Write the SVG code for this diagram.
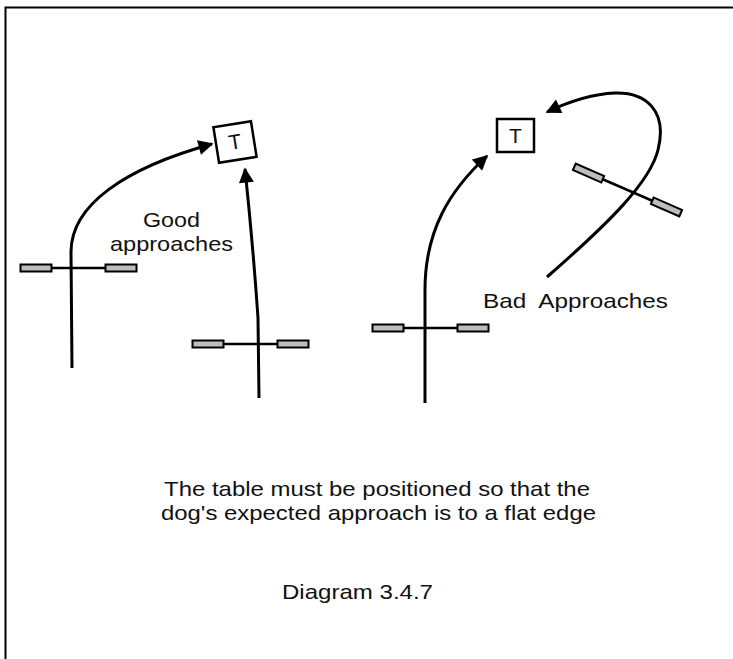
<svg xmlns="http://www.w3.org/2000/svg" width="733" height="659" viewBox="0 0 733 659">
<style>
.lbl{font-family:"Liberation Sans",Arial,sans-serif;font-size:21px;fill:#111}
.path{fill:none;stroke:#000;stroke-width:3;stroke-linecap:butt}
.box{fill:#fff;stroke:#000;stroke-width:2.5}
.bar{fill:#bdbdbd;stroke:#000;stroke-width:2}
.rail{stroke:#000;stroke-width:2.5}
</style>
<defs>
<marker id="ah" viewBox="0 0 10 10" refX="9" refY="5" markerWidth="5.5" markerHeight="5" markerUnits="strokeWidth" orient="auto">
<path d="M0,0 L10,5 L0,10 Z" fill="#000"/>
</marker>
<g id="hurdle">
<line class="rail" x1="-27" y1="0" x2="27" y2="0"/>
<rect class="bar" x="-58" y="-3.5" width="31" height="7"/>
<rect class="bar" x="27" y="-3.5" width="31" height="7"/>
</g>
</defs>
<rect width="733" height="659" fill="#fff"/>
<path d="M5.5,659 L5.5,7.5 L733,7.5" fill="none" stroke="#000" stroke-width="2"/>

<g id="table-good" transform="translate(235,142) rotate(-9)">
<rect class="box" x="-19" y="-18" width="38" height="36"/>
<text class="lbl" x="0" y="7" text-anchor="middle" font-size="19">T</text>
</g>
<g id="table-bad">
<rect class="box" x="497" y="119" width="37" height="33"/>
<text class="lbl" x="515.5" y="143" text-anchor="middle" font-size="19">T</text>
</g>

<g id="hurdle-1"><use href="#hurdle" transform="translate(78.5,268)"/></g>
<g id="hurdle-2"><use href="#hurdle" transform="translate(250.5,344)"/></g>
<g id="hurdle-3"><use href="#hurdle" transform="translate(430.5,328)"/></g>
<g id="hurdle-4"><use href="#hurdle" transform="translate(627.5,190) rotate(23.5)"/></g>

<g id="connectors">
<path class="path" d="M72,368 L71,252 C71,205 125,168 212,144" marker-end="url(#ah)"/>
<path class="path" d="M259,398 L258,318 Q253,245 245,169" marker-end="url(#ah)"/>
<path class="path" d="M425,403 L425,290 C425,230 450,190 487,156" marker-end="url(#ah)"/>
<path class="path" d="M547,277 C610,222 650,182 658,150 C668,110 645,92 615,93 C592,94 568,102 547,112" marker-end="url(#ah)"/>
</g>

<g id="labels">
<text class="lbl" x="143" y="227" textLength="57" lengthAdjust="spacingAndGlyphs">Good</text>
<text class="lbl" x="110" y="251" textLength="123" lengthAdjust="spacingAndGlyphs">approaches</text>
<text class="lbl" x="483" y="308" textLength="185" lengthAdjust="spacingAndGlyphs" xml:space="preserve">Bad  Approaches</text>
<text class="lbl" x="164" y="496" textLength="426" lengthAdjust="spacingAndGlyphs">The table must be positioned so that the</text>
<text class="lbl" x="161" y="520" textLength="435" lengthAdjust="spacingAndGlyphs">dog's expected approach is to a flat edge</text>
<text class="lbl" x="282" y="599" textLength="151" lengthAdjust="spacingAndGlyphs">Diagram 3.4.7</text>
</g>
</svg>
